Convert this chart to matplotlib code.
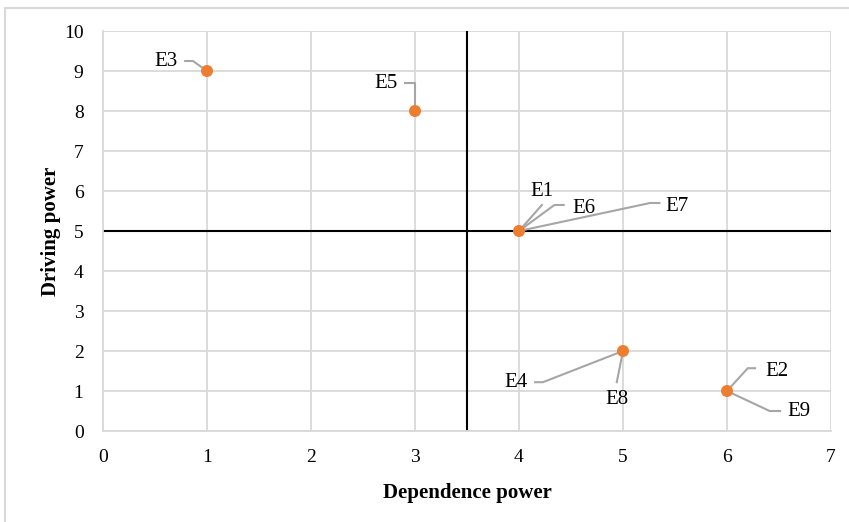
import matplotlib
matplotlib.use("Agg")
import matplotlib.pyplot as plt
from matplotlib.patches import Rectangle

plt.rcParams['font.family'] = ['Liberation Serif', 'DejaVu Serif']

# Data
dependence = [1, 3, 4, 5, 6]
driving = [9, 8, 5, 2, 1]

labels = ["E3", "E5", "E1", "E6", "E7", "E4", "E8", "E2", "E9"]
label_point_x = [1, 3, 4, 4, 4, 5, 5, 6, 6]
label_point_y = [9, 8, 5, 5, 5, 2, 2, 1, 1]
label_text_x = [0.61, 2.72, 4.22, 4.62, 5.52, 3.97, 4.94, 6.48, 6.69]
label_text_y = [9.24, 8.70, 6.00, 5.57, 5.62, 1.22, 0.80, 1.50, 0.50]
# leader elbows: (end near text, knee)
leader_end_x = [0.79, 2.90, 4.22, 4.43, 5.35, 4.155, 4.94, 6.27, 6.51]
leader_end_y = [9.25, 8.70, 5.65, 5.65, 5.70, 1.22, 1.22, 1.57, 0.50]
leader_knee_x = [0.865, 3.00, 4.22, 4.34, 5.26, 4.23, 4.94, 6.20, 6.41]
leader_knee_y = [9.25, 8.70, 5.65, 5.65, 5.70, 1.22, 1.22, 1.57, 0.50]

x_ticks = [0, 1, 2, 3, 4, 5, 6, 7]
y_ticks = [0, 1, 2, 3, 4, 5, 6, 7, 8, 9, 10]
x_split = 3.5
y_split = 5

fig = plt.figure(figsize=(8.49, 5.22), dpi=100)
ax = fig.add_axes([103/849, 91/522, 728/849, 400/522])

# outer border (top/left visible)
fig.patches.append(Rectangle((5/849, -0.1), 1.2, (514+52)/522, transform=fig.transFigure,
                             fill=False, edgecolor='#D9D9D9', linewidth=1.5, zorder=0))

ax.set_xlim(0, 7)
ax.set_ylim(0, 10)
ax.set_xticks(x_ticks)
ax.set_yticks(y_ticks)
ax.grid(True, color='#D9D9D9', linewidth=1.3)
ax.set_axisbelow(True)
for s in ['top', 'right']:
    ax.spines[s].set_visible(False)
for s in ['left', 'bottom']:
    ax.spines[s].set_color('#D9D9D9')
    ax.spines[s].set_linewidth(1.3)
ax.tick_params(length=0, labelsize=14, colors='#000000')
ax.tick_params(axis='x', pad=13)
ax.tick_params(axis='y', pad=14)

ax.axvline(x_split, color='black', linewidth=1.5, zorder=2)
ax.axhline(y_split, color='black', linewidth=1.5, zorder=2)

for i, lab in enumerate(labels):
    ax.plot([leader_end_x[i], leader_knee_x[i], label_point_x[i]],
            [leader_end_y[i], leader_knee_y[i], label_point_y[i]],
            color='#A6A6A6', linewidth=1.5, zorder=3)
    ax.text(label_text_x[i], label_text_y[i], lab, fontsize=15, ha='center', va='center',
            color='#000000', zorder=5)

ax.scatter(dependence, driving, s=75, color='#ED7D31', zorder=4, edgecolors='none')

ax.set_xlabel("Dependence power", fontsize=15, fontweight='bold', labelpad=12)
ax.set_ylabel("Driving power", fontsize=15, fontweight='bold', labelpad=2)

fig.savefig("out.png", dpi=100)
